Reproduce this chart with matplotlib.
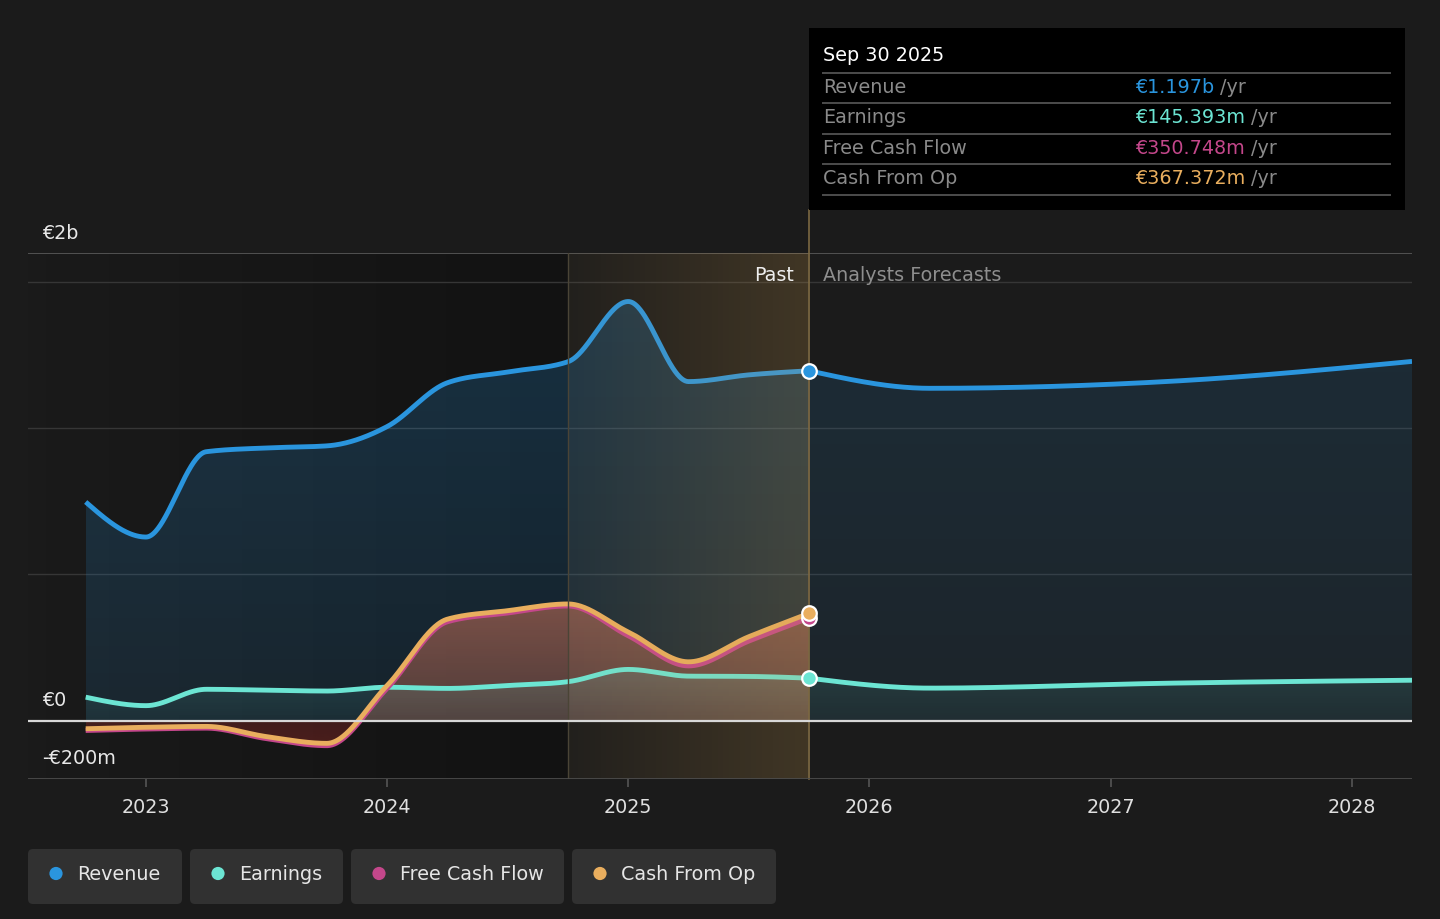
import numpy as np
import matplotlib
matplotlib.use("Agg")
import matplotlib.pyplot as plt
from matplotlib.path import Path
from matplotlib.patches import FancyBboxPatch, Rectangle, Circle

# ---------------- data (values in € billions) ----------------
past_x = [2022.75, 2023.0, 2023.25, 2023.5, 2023.75, 2024.0, 2024.25,
          2024.5, 2024.75, 2025.0, 2025.25, 2025.5, 2025.75]
revenue_past = [0.748, 0.628, 0.920, 0.933, 0.940, 1.006, 1.156,
                1.193, 1.228, 1.434, 1.160, 1.183, 1.197]
earnings_past = [0.080, 0.051, 0.107, 0.104, 0.101, 0.114, 0.110,
                 0.120, 0.133, 0.175, 0.152, 0.151, 0.145]
fcf_past = [-0.034, -0.029, -0.026, -0.062, -0.086, 0.110, 0.338,
            0.368, 0.392, 0.290, 0.187, 0.272, 0.351]
cfo_past = [-0.028, -0.023, -0.020, -0.055, -0.078, 0.120, 0.347,
            0.376, 0.399, 0.303, 0.201, 0.287, 0.367]

fc_x = [2025.75, 2026.25, 2027.25, 2028.25]
revenue_fc = [1.197, 1.137, 1.161, 1.229]
earnings_fc = [0.145, 0.111, 0.128, 0.138]

year_ticks = [2023, 2024, 2025, 2026, 2027, 2028]
y_labels = ["€2b", "€0", "-€200m"]
legend_names = ["Revenue", "Earnings", "Free Cash Flow", "Cash From Op"]
tooltip_date = "Sep 30 2025"
tooltip_values = ["€1.197b", "€145.393m", "€350.748m", "€367.372m"]

C_REV = "#2a95de"
C_EARN = "#6ce5d3"
C_FCF = "#c4478b"
C_CFO = "#e9ae5e"
BG = "#1b1b1b"


def monotone(xs, ys, n=80):
    xs = np.asarray(xs, float)
    ys = np.asarray(ys, float)
    h = np.diff(xs)
    s = np.diff(ys) / h
    m = np.zeros(len(xs))
    for i in range(1, len(xs) - 1):
        p = (s[i - 1] * h[i] + s[i] * h[i - 1]) / (h[i - 1] + h[i])
        m[i] = (np.sign(s[i - 1]) + np.sign(s[i])) * min(abs(s[i - 1]), abs(s[i]), 0.5 * abs(p))
    m[0] = (3 * s[0] - m[1]) / 2
    m[-1] = (3 * s[-1] - m[-2]) / 2
    X, Y = [], []
    for i in range(len(xs) - 1):
        t = np.linspace(0, 1, n, endpoint=(i == len(xs) - 2))
        h00 = 2 * t**3 - 3 * t**2 + 1
        h10 = t**3 - 2 * t**2 + t
        h01 = -2 * t**3 + 3 * t**2
        h11 = t**3 - t**2
        X.append(xs[i] + t * h[i])
        Y.append(h00 * ys[i] + h10 * h[i] * m[i] + h01 * ys[i + 1] + h11 * h[i] * m[i + 1])
    return np.concatenate(X), np.concatenate(Y)


W, H = 1440, 919
fig = plt.figure(figsize=(W / 100, H / 100), dpi=100, facecolor=BG)

X0, X1 = 28, 1412
Y_TOP, Y_BOT = 253, 779
ax = fig.add_axes([X0 / W, 1 - Y_BOT / H, (X1 - X0) / W, (Y_BOT - Y_TOP) / H])
ax.set_facecolor(BG)
xmin = 2023 - (146 - X0) / 241.2
xmax = 2028.25
ymin, ymax = -0.2, 1.6


def grad_fill(x, ytop, ybot, rgb, a_bot, a_top, y_lo, y_hi, z):
    poly = ax.fill_between(x, ytop, ybot, facecolor="none", edgecolor="none", lw=0)
    path = Path.make_compound_path(*poly.get_paths())
    poly.remove()
    n = 256
    img = np.zeros((n, 2, 4))
    img[..., :3] = rgb
    img[:, :, 3] = np.linspace(a_bot, a_top, n)[:, None]
    im = ax.imshow(img, extent=[x[0], x[-1], y_lo, y_hi], origin="lower",
                   aspect="auto", zorder=z, interpolation="bilinear")
    im.set_clip_path(path, transform=ax.transData)


def h_grad(x0, x1, rgb, a0, a1, z):
    n = 256
    img = np.zeros((2, n, 4))
    img[..., :3] = rgb
    img[:, :, 3] = np.linspace(a0, a1, n)[None, :]
    ax.imshow(img, extent=[x0, x1, ymin, ymax], origin="lower", aspect="auto",
              zorder=z, interpolation="bilinear")


# past darkening
h_grad(xmin, 2024.75, (0, 0, 0), 0.03, 0.33, 0.3)

# grid lines
for g in [0.5, 1.0, 1.5]:
    ax.axhline(g, color="#363636", lw=1, zorder=1)
ax.axhline(1.6, color="#565656", lw=1.3, zorder=1)

# curves
rx_p, ry_p = monotone(past_x, revenue_past)
rx_f, ry_f = monotone(fc_x, revenue_fc)
ex_p, ey_p = monotone(past_x, earnings_past)
ex_f, ey_f = monotone(fc_x, earnings_fc)
fx, fy = monotone(past_x, fcf_past)
cx, cy = monotone(past_x, cfo_past)

rev_rgb = (0.16, 0.58, 0.87)
earn_rgb = (0.42, 0.90, 0.83)
grad_fill(rx_p, ry_p, 0, rev_rgb, 0.12, 0.24, 0, 1.45, 2.0)
grad_fill(rx_f, ry_f, 0, rev_rgb, 0.08, 0.14, 0, 1.25, 2.0)
grad_fill(cx, np.maximum(cy, 0), 0, (0.92, 0.50, 0.38), 0.28, 0.48, 0, 0.41, 2.1)
grad_fill(cx, np.minimum(cy, 0), 0, (0.80, 0.20, 0.18), 0.30, 0.24, -0.09, 0, 2.1)
grad_fill(ex_p, ey_p, 0, earn_rgb, 0.05, 0.16, 0, 0.18, 2.2)
grad_fill(ex_f, ey_f, 0, earn_rgb, 0.05, 0.12, 0, 0.15, 2.2)

lw = 3.5
ax.plot(rx_p, ry_p, color=C_REV, lw=lw, zorder=3, solid_capstyle="butt")
ax.plot(rx_f, ry_f, color=C_REV, lw=lw, zorder=3, solid_capstyle="butt")
ax.plot(ex_p, ey_p, color=C_EARN, lw=lw, zorder=3, solid_capstyle="butt")
ax.plot(ex_f, ey_f, color=C_EARN, lw=lw, zorder=3, solid_capstyle="butt")
ax.plot(fx, fy, color=C_FCF, lw=lw, zorder=3.1, solid_capstyle="butt")
ax.plot(cx, cy, color=C_CFO, lw=lw, zorder=3.2, solid_capstyle="butt")

# highlight of last past year
h_grad(2024.75, 2025.75, (0.82, 0.62, 0.30), 0.04, 0.21, 4)
ax.plot([2024.75, 2024.75], [ymin, ymax], color="#4a4436", lw=1, zorder=4.1)
ax.plot([2025.75, 2025.75], [ymin, ymax + (Y_TOP - 210) / 526 * 1.8],
        color="#7c6842", lw=1.2, zorder=4.1, clip_on=False)

# zero line and bottom axis
ax.axhline(0, color="#d8d8d8", lw=1.6, zorder=5)
ax.axhline(ymin, color="#4c4c4c", lw=2, zorder=5)

# end markers
last = len(past_x) - 1
for vals, col in [(revenue_past, C_REV), (earnings_past, C_EARN),
                  (fcf_past, C_FCF), (cfo_past, C_CFO)]:
    ax.plot([past_x[last]], [vals[last]], "o", ms=10.5, mfc=col, mec="white",
            mew=1.6, zorder=6)

ax.set_xlim(xmin, xmax)
ax.set_ylim(ymin, ymax)
for sp in ax.spines.values():
    sp.set_visible(False)
ax.set_yticks([])
ax.set_xticks(year_ticks)
ax.set_xticklabels([str(y) for y in year_ticks], color="#e0e0e0", fontsize=13.8)
ax.tick_params(axis="x", length=6, width=1.2, color="#555555", pad=8)

# ---------------- overlay in pixel coordinates ----------------
ov = fig.add_axes([0, 0, 1, 1], zorder=10)
ov.set_xlim(0, W)
ov.set_ylim(H, 0)
ov.axis("off")

FS = 13.8
# y labels
for lab, yb in zip(y_labels, [239, 706, 764]):
    ov.text(42, yb, lab, color="#e8e8e8", fontsize=FS, va="baseline", ha="left")

ov.text(794, 281, "Past", color="#eeeeee", fontsize=FS, va="baseline", ha="right")
ov.text(823, 281, "Analysts Forecasts", color="#8e8e8e", fontsize=FS, va="baseline", ha="left")

# tooltip
ov.add_patch(Rectangle((809, 28), 596, 182, facecolor="#000000", edgecolor="none"))
ov.text(823, 61, tooltip_date, color="#ffffff", fontsize=FS, va="baseline")
for ys in [73, 103, 133.5, 163.5, 195]:
    ov.plot([823, 1390], [ys, ys], color="#4d4d4d", lw=1.4)
renderer = fig.canvas.get_renderer()
for name, val, col, yb in zip(legend_names, tooltip_values,
                              [C_REV, C_EARN, C_FCF, C_CFO], [93, 123, 154, 184]):
    ov.text(823, yb, name, color="#8a8a8a", fontsize=FS, va="baseline")
    t = ov.text(1135, yb, val, color=col, fontsize=FS, va="baseline")
    bb = t.get_window_extent(renderer)
    ov.text(bb.x1 + 6, yb, "/yr", color="#8a8a8a", fontsize=FS, va="baseline")

# legend
boxes = [(28, 182), (190, 343), (351, 564), (572, 776)]
for (bx0, bx1), name, col in zip(boxes, legend_names, [C_REV, C_EARN, C_FCF, C_CFO]):
    ov.add_patch(FancyBboxPatch((bx0 + 5, 849 + 5), bx1 - bx0 - 10, 55 - 10,
                                boxstyle="round,pad=5,rounding_size=5",
                                facecolor="#313131", edgecolor="none"))
    ov.add_patch(Circle((bx0 + 28, 873.5), 6.6, facecolor=col, edgecolor="none"))
    ov.text(bx0 + 49, 880, name, color="#e6e6e6", fontsize=FS, va="baseline")

fig.savefig("out.png", dpi=100, facecolor=BG)
